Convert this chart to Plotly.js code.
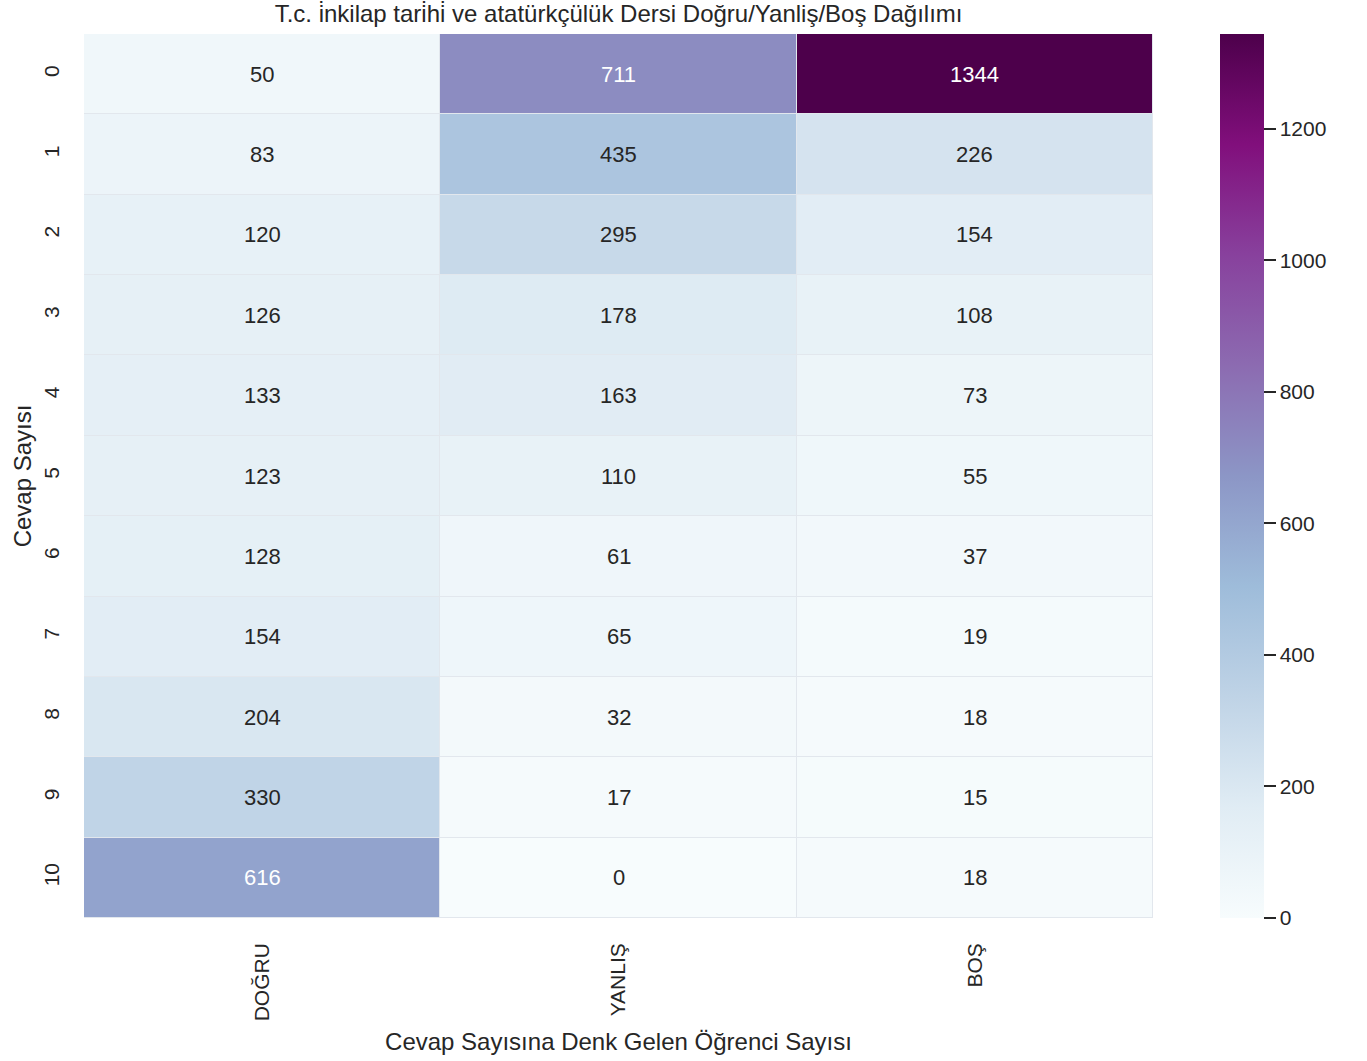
<!DOCTYPE html>
<html>
<head>
<meta charset="utf-8">
<script src="https://cdn.plot.ly/plotly-3.0.1.min.js"></script>
<style>html,body{margin:0;padding:0;background:#fff;}</style>
</head>
<body>
<div id="chart" style="width:1367px;height:1061px;"></div>
<script>
const categories = ["DOĞRU", "YANLIŞ", "BOŞ"];
const rowLabels = ["0","1","2","3","4","5","6","7","8","9","10"];
const dogru  = [50, 83, 120, 126, 133, 123, 128, 154, 204, 330, 616];
const yanlis = [711, 435, 295, 178, 163, 110, 61, 65, 32, 17, 0];
const bos    = [1344, 226, 154, 108, 73, 55, 37, 19, 18, 15, 18];
const titleText = "T.c. i̇nkilap tari̇hi̇ ve atatürkçülük Dersi Doğru/Yanliş/Boş Dağılımı";
const xTitle = "Cevap Sayısına Denk Gelen Öğrenci Sayısı";
const yTitle = "Cevap Sayısı";

const bupu = ["#f7fcfd","#e0ecf4","#bfd3e6","#9ebcda","#8c96c6","#8c6bb1","#88419d","#810f7c","#4d004b"];
const colorscale = bupu.map((c,i)=>[i/(bupu.length-1), c]);

const z = rowLabels.map((_, i) => [dogru[i], yanlis[i], bos[i]]);
const zmax = Math.max(...dogru, ...yanlis, ...bos);
const fam = 'Liberation Sans, Arial, sans-serif';

const annotations = [];
rowLabels.forEach((r, i) => {
  categories.forEach((c, j) => {
    const v = z[i][j];
    annotations.push({
      x: c, y: r, xref: 'x', yref: 'y', text: String(v), showarrow: false,
      font: {family: fam, size: 22, color: v / zmax > 0.42 ? '#ffffff' : '#262626'}
    });
  });
});
const font = {family: fam, size: 21, color: '#262626'};
const titleFont = {family: fam, size: 24, color: '#262626'};

const trace = {
  type: 'heatmap', x: categories, y: rowLabels, z: z,
  colorscale: colorscale, zmin: 0, zmax: zmax,
  xgap: 1, ygap: 1, hoverinfo: 'skip',
  colorbar: {
    x: 1.0627, xanchor: 'left', xpad: 0, y: 0.5, yanchor: 'middle', ypad: 0, len: 1, lenmode: 'fraction',
    thickness: 44, thicknessmode: 'pixels', outlinewidth: 0,
    ticks: 'outside', ticklen: 12, tickwidth: 1.5, tickcolor: '#262626',
    tickvals: [0,200,400,600,800,1000,1200], tickfont: font
  }
};

const layout = {
  width: 1367, height: 1061,
  margin: {l: 84, r: 214, t: 34, b: 143},
  paper_bgcolor: '#ffffff', plot_bgcolor: '#e2e7ed',
  font: font,
  title: {text: titleText, x: 0.4525, xanchor: 'center', y: 0.987, yanchor: 'middle', font: titleFont},
  xaxis: {type: 'category', tickangle: -90, showgrid: false, zeroline: false, ticks: '', ticklen: 0, ticklabelstandoff: 20,
          tickfont: font, title: {text: xTitle, font: titleFont, standoff: 12}, automargin: false},
  yaxis: {type: 'category', autorange: 'reversed', tickangle: -90, showgrid: false, zeroline: false, ticks: '', ticklabelstandoff: 20,
          tickfont: font, title: {text: yTitle, font: titleFont, standoff: 1}, automargin: false},
  annotations: annotations
};

Plotly.newPlot('chart', [trace], layout, {displayModeBar: false});
</script>
</body>
</html>
